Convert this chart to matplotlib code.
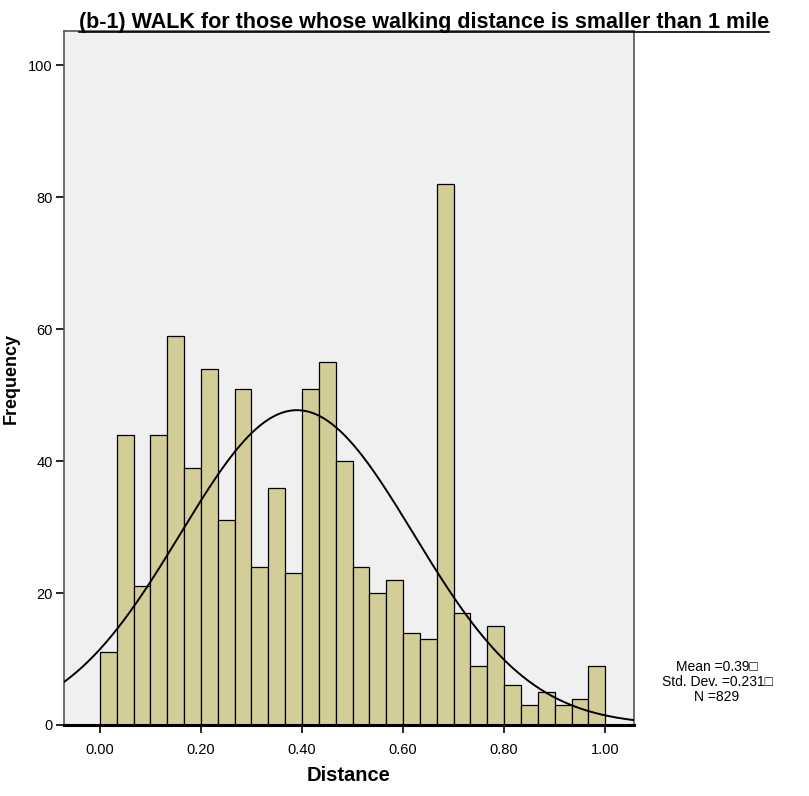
import numpy as np
import matplotlib
matplotlib.use("Agg")
import matplotlib.pyplot as plt
from matplotlib import font_manager as fm
from matplotlib.lines import Line2D

# Data
bin_width = 1.0 / 30
bin_starts = [i * bin_width for i in range(30)]
counts = [11, 44, 21, 44, 59, 39, 54, 31, 51, 24, 36, 23, 51, 55, 40,
          24, 20, 22, 14, 13, 82, 17, 9, 15, 6, 3, 5, 3, 4, 9]
mean_val = 0.39
std_val = 0.231
n_val = 829
x_ticks = [0.0, 0.2, 0.4, 0.6, 0.8, 1.0]
x_tick_labels = ["0.00", "0.20", "0.40", "0.60", "0.80", "1.00"]
y_ticks = [0, 20, 40, 60, 80, 100]

names = {f.name for f in fm.fontManager.ttflist}
narrow = "Liberation Sans Narrow" if "Liberation Sans Narrow" in names else "Liberation Sans"

fig = plt.figure(figsize=(8.09, 7.96), dpi=100)
ax = fig.add_axes([64/809, 1-725/796, (634-64)/809, (725-31)/796])
ax.set_facecolor("#f0f0f0")

ax.bar(bin_starts, counts, width=bin_width, align="edge",
       color="#d3ce97", edgecolor="black", linewidth=0.9, zorder=2)

xs = np.linspace(-0.08, 1.07, 400)
ys = n_val * bin_width / (std_val * np.sqrt(2*np.pi)) * np.exp(-0.5*((xs-mean_val)/std_val)**2)
ax.plot(xs, ys, color="black", linewidth=1.4, zorder=3)

ax.set_xlim(-0.071, 1.057)
ax.set_ylim(0, 105.2)
ax.set_xticks(x_ticks)
ax.set_xticklabels(x_tick_labels, family=narrow, fontsize=10.5)
ax.set_yticks(y_ticks)
ax.set_yticklabels([str(v) for v in y_ticks], family=narrow, fontsize=10.5)
ax.tick_params(axis="both", direction="out", length=6, width=1.2, color="black")
ax.tick_params(axis="x", pad=7)
ax.tick_params(axis="y", pad=2)

for s in ["top", "right", "left"]:
    ax.spines[s].set_color("#555555")
    ax.spines[s].set_linewidth(1.2)
ax.spines["bottom"].set_color("black")
ax.spines["bottom"].set_linewidth(2.2)
ax.spines["bottom"].set_zorder(4)

ax.set_xlabel("Distance", family=narrow, fontsize=14.5, fontweight="bold")
ax.xaxis.set_label_coords((349-64)/570, -(766-725)/694)
ax.set_ylabel("Frequency", family="Liberation Sans", fontsize=13, fontweight="bold")
ax.yaxis.set_label_coords((20-64)/570, (725-378)/694)

title = fig.text(79/809, 1-28/796, "(b-1) WALK for those whose walking distance is smaller than 1 mile",
                 family=narrow, fontsize=15.5, fontweight="bold", ha="left", va="baseline")

fig.text(717/809, 1-682/796, "Mean =0.39\u25a1\nStd. Dev. =0.231\u25a1\nN =829",
         family=[narrow, "DejaVu Sans"], fontsize=10, ha="center", va="center", linespacing=1.05)

fig.canvas.draw()
bb = title.get_window_extent(renderer=fig.canvas.get_renderer())
yline = (bb.y0 + 1) / fig.bbox.height
fig.add_artist(Line2D([bb.x0/fig.bbox.width, bb.x1/fig.bbox.width], [yline, yline],
                      transform=fig.transFigure, color="black", linewidth=1.2))

fig.savefig("out.png", dpi=100)
